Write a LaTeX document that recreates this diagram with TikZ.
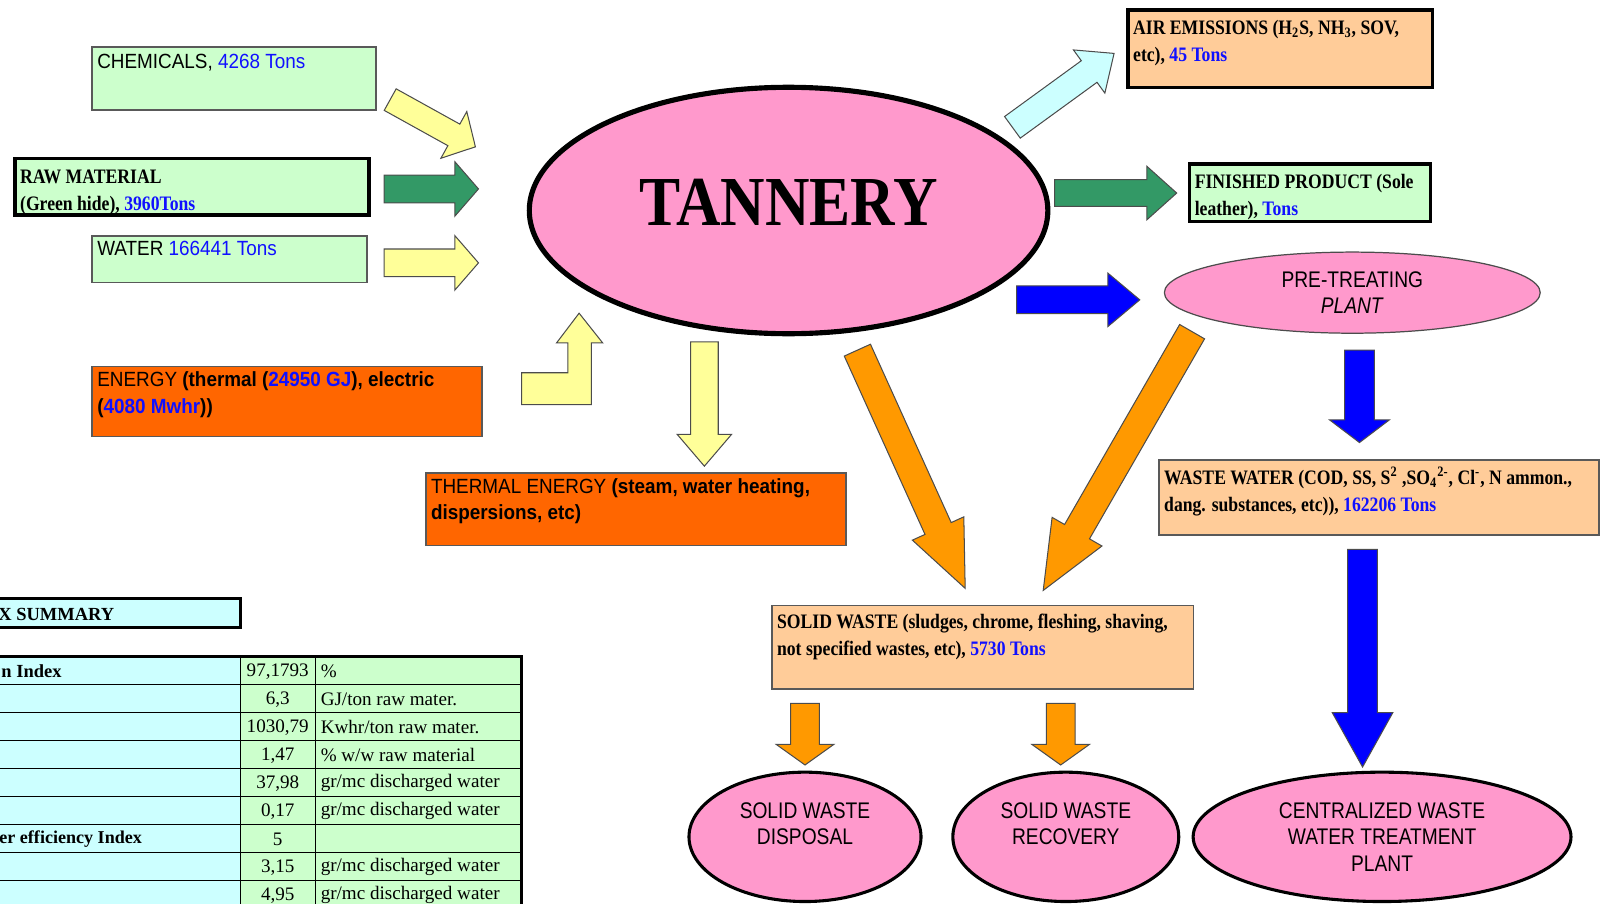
\documentclass[tikz,border=0pt]{standalone}
\usepackage{graphicx}
\usepackage{fontspec}
\setmainfont{Liberation Serif}
\newfontfamily\narrowsans[FakeStretch=0.92]{Liberation Sans}
\newfontfamily\ellsans[FakeStretch=0.85]{Liberation Sans}
\newfontfamily\narrowserif[FakeStretch=0.86]{Liberation Serif}
\usetikzlibrary{shapes.geometric,calc}

\definecolor{lgreen}{HTML}{CCFFCC}
\definecolor{peach}{HTML}{FFCC99}
\definecolor{enorange}{HTML}{FF6600}
\definecolor{pinkfill}{HTML}{FF99CC}
\definecolor{lyellow}{HTML}{FFFF99}
\definecolor{dgreen}{HTML}{339966}
\definecolor{lcyan}{HTML}{CCFFFF}
\definecolor{arrblue}{HTML}{0000FF}
\definecolor{arrorange}{HTML}{FF9900}
\definecolor{tblue}{HTML}{1010FF}

\tikzset{
  box/.style={anchor=north west, inner sep=2.5pt, draw=black!65, line width=0.8pt},
  heavybox/.style={box, draw=black, line width=1.6pt},
  sanstext/.style={font=\narrowsans\fontsize{10}{13}\selectfont},
  seriftext/.style={font=\narrowserif\bfseries\fontsize{10}{13.3}\selectfont},
  bubble/.style={ellipse, draw=black, line width=1.5pt, fill=pinkfill, inner sep=0pt,
    align=center, font=\ellsans\fontsize{11}{13}\selectfont},
  arrowline/.style={draw=black!70, line width=0.5pt},
  cell/.style={inner sep=0pt, font=\rmfamily\fontsize{9.3}{11}\selectfont},
}

% text at the top of a box of fixed size
\newcommand\boxtext[3]{\parbox[c][#2][t]{#1}{\raggedright #3}}

% block arrow: tail, tip, shaft half width, head half width, head length
\newcommand\blockarrow[6][]{%
  \coordinate (ba) at ($(#3)!#6!(#2)$);
  \draw[arrowline,#1] ($(#2)!#4!90:(#3)$) -- ($(ba)!#4!90:(#3)$) -- ($(ba)!#5!90:(#3)$) -- (#3)
    -- ($(ba)!#5!-90:(#3)$) -- ($(ba)!#4!-90:(#3)$) -- ($(#2)!#4!-90:(#3)$) -- cycle;
}

\begin{document}
\begin{tikzpicture}[x=0.5pt, y=-0.5pt]
    \useasboundingbox (0,0) rectangle (1568,880);
    \clip (0,0) rectangle (1568,880);

    % inputs
    \node[box, sanstext, fill=lgreen] (chem) at (89,45)
        {\boxtext{133.2pt}{25.7pt}{\rule{0pt}{8pt}CHEMICALS, \textcolor{tblue}{4268 Tons}}};
    \node[heavybox, seriftext, fill=lgreen] (raw) at (13,153)
        {\boxtext{167.4pt}{22.4pt}{\strut RAW MATERIAL\\(Green hide), \textcolor{tblue}{3960Tons}}};
    \node[box, sanstext, fill=lgreen] (water) at (89,229)
        {\boxtext{128.7pt}{17.7pt}{WATER \textcolor{tblue}{166441 Tons}}};
    \node[box, sanstext, fill=enorange] (energy) at (89,356)
        {\boxtext{184.7pt}{29.2pt}{ENERGY {\bfseries(thermal (}\textcolor{tblue}{\bfseries 24950 GJ}{\bfseries), electric}\\
        {\bfseries(}\textcolor{tblue}{\bfseries 4080 Mwhr}{\bfseries))}}};

    % tannery and outputs
    \node[bubble, line width=2.5pt, minimum width=252.5pt, minimum height=120pt, font=\rmfamily] (tannery) at (768,205)
        {\raisebox{8pt}{\scalebox{1}[1.14]{\fontsize{30}{30}\selectfont\bfseries TANNERY}}};
    \node[heavybox, seriftext, fill=peach] (air) at (1097,8)
        {\boxtext{143.4pt}{32.9pt}{\strut AIR EMISSIONS (H\textsubscript{2}S, NH\textsubscript{3}, SOV,\\etc), \textcolor{tblue}{45 Tons}}};
    \node[heavybox, seriftext, fill=lgreen] (product) at (1157,158)
        {\boxtext{112.4pt}{22.9pt}{\strut FINISHED PRODUCT (Sole\\leather), \textcolor{tblue}{Tons}}};
    \node[box, sanstext, fill=enorange] (thermal) at (414,460)
        {\boxtext{199.7pt}{30.2pt}{THERMAL ENERGY {\bfseries(steam, water heating,\\dispersions, etc)}}};
    \node[bubble, line width=0.6pt, draw=black!70, minimum width=183pt, minimum height=39.5pt] (pretreat) at (1317,285)
        {PRE-TREATING\\\textit{PLANT}};
    \node[box, seriftext, fill=peach] (wastewater) at (1128,447)
        {\boxtext{209.2pt}{31.7pt}{\strut WASTE WATER (COD, SS, S\textsuperscript{2} ,SO\textsubscript{4}\textsuperscript{2-}, Cl\textsuperscript{-}, N ammon.,\\
        dang. substances, etc)), \textcolor{tblue}{162206 Tons}}};
    \node[box, seriftext, fill=peach] (solidwaste) at (751,589)
        {\boxtext{200.2pt}{35.7pt}{\rule{0pt}{8.5pt}SOLID WASTE (sludges, chrome, fleshing, shaving,\\
        not specified wastes, etc), \textcolor{tblue}{5730 Tons}}};

    % final destinations
    \node[bubble, minimum width=113pt, minimum height=63pt] (disposal) at (784,815) {SOLID WASTE\\DISPOSAL\\\mbox{}};
    \node[bubble, minimum width=110pt, minimum height=63pt] (recovery) at (1038,815) {SOLID WASTE\\RECOVERY\\\mbox{}};
    \node[bubble, minimum width=184pt, minimum height=63pt] (central) at (1346,815) {CENTRALIZED WASTE\\WATER TREATMENT\\PLANT};

    % arrow ends
    \coordinate (chemA) at (380,97);    \coordinate (chemB) at (463,143);
    \coordinate (rawA) at (374,184);    \coordinate (rawB) at (466,184);
    \coordinate (waterA) at (374,256);  \coordinate (waterB) at (466,256);
    \coordinate (airA) at (986,124);    \coordinate (airB) at (1085,52);
    \coordinate (prodA) at (1027,188);  \coordinate (prodB) at (1146,188);
    \coordinate (preA) at (990,292);    \coordinate (preB) at (1110,292);
    \coordinate (thermA) at (686,333);  \coordinate (thermB) at (686,454);
    \coordinate (swA) at (835,341);     \coordinate (swB) at (940,573);
    \coordinate (swC) at (1161,323);    \coordinate (swD) at (1016,575);
    \coordinate (wwA) at (1324,341);    \coordinate (wwB) at (1324,431);
    \coordinate (centA) at (1327,535);  \coordinate (centB) at (1327,747);
    \coordinate (dispA) at (784,685);   \coordinate (dispB) at (784,745);
    \coordinate (recA) at (1033,685);   \coordinate (recB) at (1033,745);

    \blockarrow[fill=lyellow]{chemA}{chemB}{6pt}{13pt}{12pt}
    \blockarrow[fill=dgreen]{rawA}{rawB}{6.75pt}{13.25pt}{11.5pt}
    \blockarrow[fill=lyellow]{waterA}{waterB}{6.75pt}{13.25pt}{11.5pt}
    \blockarrow[fill=lcyan]{airA}{airB}{6.5pt}{13pt}{15pt}
    \blockarrow[fill=dgreen]{prodA}{prodB}{6.5pt}{13pt}{14.5pt}
    \blockarrow[fill=arrblue]{preA}{preB}{6.75pt}{13pt}{15.5pt}
    \blockarrow[fill=lyellow]{thermA}{thermB}{6.75pt}{13.25pt}{15.5pt}
    \blockarrow[fill=arrorange]{swA}{swB}{7pt}{13.75pt}{32pt}
    \blockarrow[fill=arrorange]{swC}{swD}{7pt}{14pt}{33pt}
    \blockarrow[fill=arrblue]{wwA}{wwB}{7.25pt}{14.5pt}{11pt}
    \blockarrow[fill=arrblue]{centA}{centB}{7.25pt}{14.75pt}{26.5pt}
    \blockarrow[fill=arrorange]{dispA}{dispB}{7pt}{14pt}{10pt}
    \blockarrow[fill=arrorange]{recA}{recB}{7pt}{14pt}{10pt}

    % bent energy arrow
    \draw[arrowline, fill=lyellow] (508,363) -- (553,363) -- (553,334) -- (542,334) -- (564,305)
        -- (587,334) -- (576,334) -- (576,394) -- (508,394) -- cycle;

    % summary table
    \draw[fill=lcyan, line width=1.2pt] (-10,583) rectangle (234,611);
    \node[cell, anchor=west, font=\rmfamily\bfseries\fontsize{9}{11}\selectfont] (sumtitle) at (-2,598) {X SUMMARY};
    \fill[lcyan] (-10,639) rectangle (234,900);
    \fill[lgreen] (234,639) rectangle (508,900);
    \foreach \i in {1,...,9}
        \draw[line width=0.6pt] (-10,{639+27.3*\i}) -- (508,{639+27.3*\i});
    \draw[line width=0.6pt] (234,639) -- (234,900);
    \draw[line width=0.6pt] (307,639) -- (307,900);
    \draw[line width=1.5pt] (-10,639) -- (508,639) -- (508,900);
    \node[cell, anchor=west, font=\rmfamily\bfseries\fontsize{9}{11}\selectfont] (lab1) at (1,653.6) {n Index};
    \node[cell, anchor=west, font=\rmfamily\bfseries\fontsize{8.8}{11}\selectfont] (lab7) at (-1,817.4) {er efficiency Index};
    \foreach \v/\u [count=\i] in {{97,1793}/\%, {6,3}/{GJ/ton raw mater.}, {1030,79}/{Kwhr/ton raw mater.},
        {1,47}/{\% w/w raw material}, {37,98}/{gr/mc discharged water}, {0,17}/{gr/mc discharged water},
        5/{}, {3,15}/{gr/mc discharged water}, {4,95}/{gr/mc discharged water}}
    {
        \node[cell] (val\i) at (270.5,{640+27.3*(\i-0.5)}) {\v};
        \node[cell, anchor=west] (unit\i) at (312,{640+27.3*(\i-0.5)}) {\u};
    }
\end{tikzpicture}
\end{document}
